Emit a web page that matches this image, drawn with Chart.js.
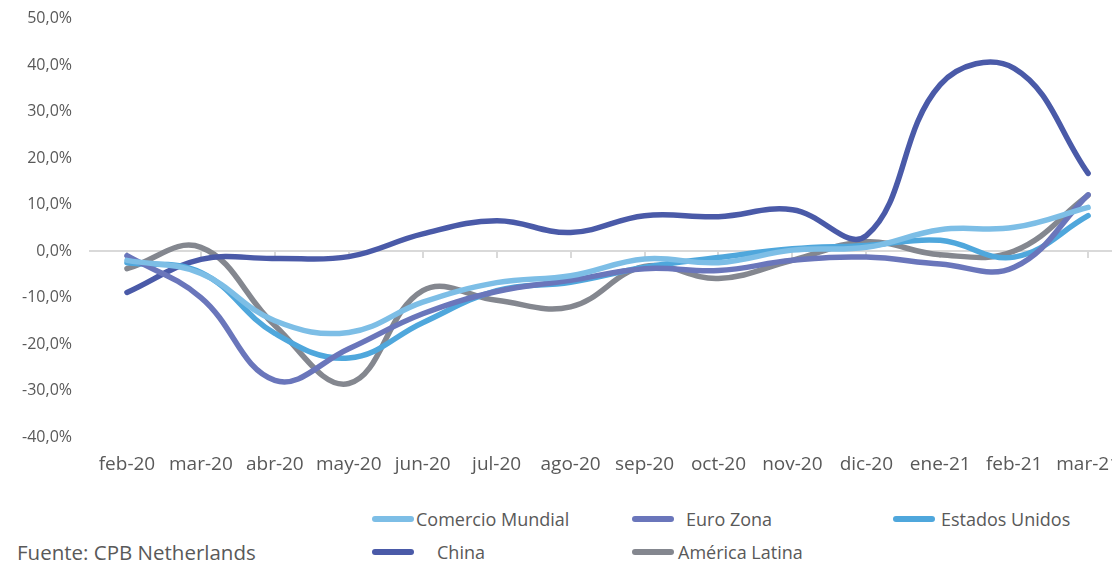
<!DOCTYPE html>
<html lang="es">
<head>
  <meta charset="UTF-8">
  <title>Comercio mundial</title>
  <script src="https://cdn.jsdelivr.net/npm/chart.js"></script>
  <style>
    body {
      margin: 0;
      background: #ffffff;
      font-family: 'Open Sans', sans-serif;
      color: #595959;
      overflow: hidden;
      width: 1112px;
      height: 564px;
      position: relative;
    }
    .chart-box {
      position: absolute;
      left: 0;
      top: -9px;
      width: 1136px;
      height: 499px;
    }
    .legend-item {
      position: absolute;
      font-size: 18px;
      line-height: 20px;
      white-space: nowrap;
    }
    .legend-item .mark {
      position: absolute;
      width: 42px;
      height: 6px;
      border-radius: 3px;
      top: 7px;
    }
    .source {
      position: absolute;
      left: 17px;
      top: 540px;
      font-size: 20.5px;
      line-height: 24px;
    }
  </style>
</head>
<body>
  <div class="chart-box"><canvas id="tradeChart"></canvas></div>
  <div id="legend"></div>
  <div class="source">Fuente: CPB Netherlands</div>

  <script>
    const months = ["feb-20", "mar-20", "abr-20", "may-20", "jun-20", "jul-20", "ago-20",
                    "sep-20", "oct-20", "nov-20", "dic-20", "ene-21", "feb-21", "mar-21"];

    const comercioMundial = [-2.0, -4.8, -15.0, -17.5, -11.0, -6.8, -5.3, -1.7, -2.5, 0.2, 0.8, 4.6, 5.1, 9.4];
    const euroZona        = [-1.0, -10.0, -27.8, -21.0, -13.5, -8.7, -6.3, -3.8, -4.2, -2.0, -1.3, -2.8, -3.5, 12.1];
    const estadosUnidos   = [-2.5, -4.6, -17.7, -23.0, -15.4, -8.5, -6.7, -3.5, -1.4, 0.5, 1.2, 2.3, -1.3, 7.6];
    const china           = [-8.9, -1.8, -1.6, -1.2, 3.7, 6.5, 4.0, 7.6, 7.4, 8.9, 3.3, 35.8, 39.3, 16.7];
    const americaLatina   = [-3.8, 0.8, -16.0, -28.5, -8.5, -10.6, -12.0, -3.3, -5.9, -2.0, 2.0, -0.8, 0.0, 12.0];

    const series = [
      { label: "Comercio Mundial", data: comercioMundial, color: "#7dbee6" },
      { label: "Euro Zona",        data: euroZona,        color: "#6a76bb" },
      { label: "Estados Unidos",   data: estadosUnidos,   color: "#4fa7dc" },
      { label: "China",            data: china,           color: "#4a5aa8" },
      { label: "América Latina",   data: americaLatina,   color: "#84878f" }
    ];

    // legend slots, same order as series (Excel-style grid)
    const legendSlots = [
      { mark: 372, text: 416, top: 509 },
      { mark: 632, text: 686, top: 509 },
      { mark: 893, text: 941, top: 509 },
      { mark: 372, text: 437, top: 542 },
      { mark: 632, text: 678, top: 542 }
    ];

    const legend = document.getElementById("legend");
    series.forEach((s, i) => {
      const slot = legendSlots[i];
      const item = document.createElement("div");
      item.className = "legend-item";
      item.style.left = slot.mark + "px";
      item.style.top = slot.top + "px";
      item.style.width = "240px";
      item.innerHTML = '<span class="mark" style="left:0;background:' + s.color + '"></span>' +
        '<span style="position:absolute;left:' + (slot.text - slot.mark) + 'px">' + s.label + '</span>';
      legend.appendChild(item);
    });

    const ctx = document.getElementById("tradeChart").getContext("2d");
    new Chart(ctx, {
      type: "line",
      data: {
        labels: months,
        datasets: series.map(s => ({
          label: s.label,
          data: s.data,
          borderColor: s.color,
          backgroundColor: s.color,
          borderWidth: 5.5,
          pointRadius: 0,
          tension: 0.4,
          fill: false,
          borderCapStyle: "round"
        }))
      },
      options: {
        responsive: true,
        maintainAspectRatio: false,
        animation: false,
        layout: { padding: { top: 9, right: 0, bottom: 0, left: 0 } },
        plugins: {
          legend: { display: false },
          tooltip: { enabled: false }
        },
        scales: {
          x: {
            type: "category",
            offset: true,
            grid: { display: false, drawTicks: false },
            border: { display: false },
            ticks: {
              color: "#595959",
              font: { family: "'Open Sans', sans-serif", size: 19 },
              padding: 16,
              maxRotation: 0,
              autoSkip: false
            },
            afterFit: scale => { scale.height = 53; }
          },
          x2: {
            type: "category",
            labels: months,
            offset: true,
            position: { y: 0 },
            grid: {
              display: true,
              drawOnChartArea: false,
              drawTicks: true,
              tickLength: 6,
              color: "#d9d9d9",
              lineWidth: 2
            },
            border: { display: true, color: "#d9d9d9", width: 2 },
            ticks: { display: false }
          },
          y: {
            min: -40,
            max: 50,
            grid: { display: false, drawTicks: false },
            border: { display: false },
            ticks: {
              stepSize: 10,
              color: "#595959",
              padding: 18,
              font: { family: "'Open Sans', sans-serif", size: 16 },
              callback: v => v.toFixed(1).replace(".", ",") + "%"
            },
            afterFit: scale => { scale.width = 90; }
          }
        }
      }
    });
  </script>
</body>
</html>
